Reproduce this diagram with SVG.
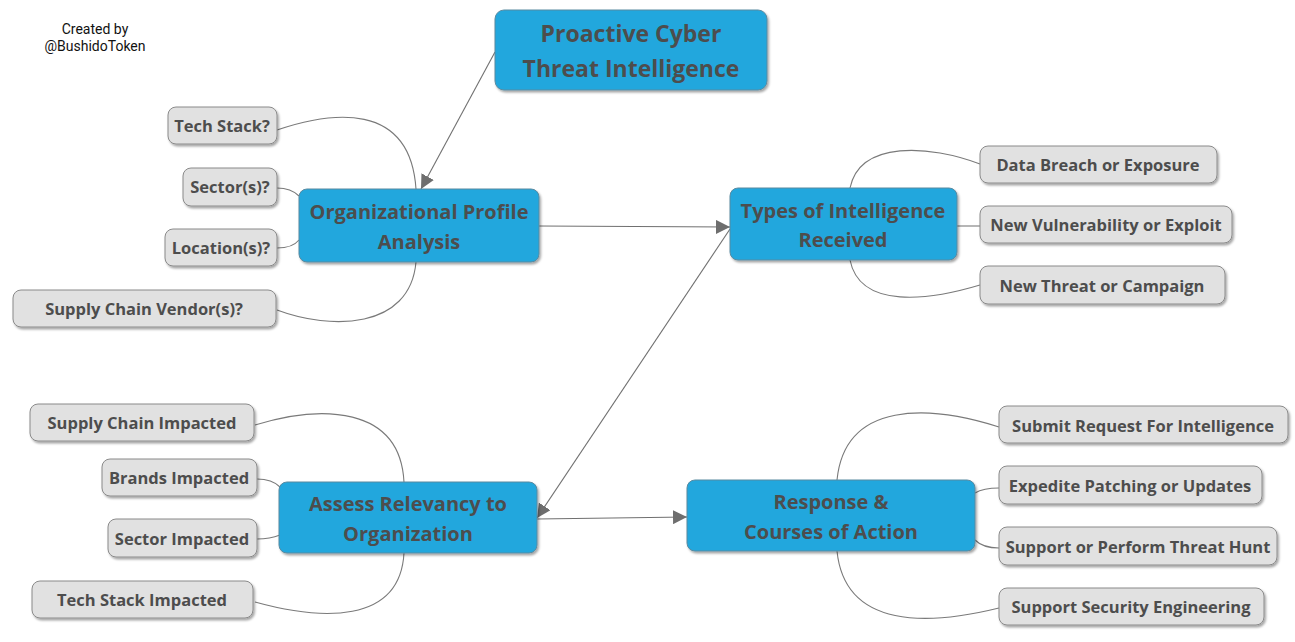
<svg xmlns="http://www.w3.org/2000/svg" width="1295" height="642" viewBox="0 0 1295 642">
<defs>
<filter id="sh" x="-10%" y="-20%" width="120%" height="150%">
<feDropShadow dx="1.5" dy="2" stdDeviation="1.2" flood-color="#000" flood-opacity="0.35"/>
</filter>
<marker id="arr" viewBox="0 0 10 10" refX="10" refY="5" markerWidth="14" markerHeight="14" markerUnits="userSpaceOnUse" orient="auto">
<path d="M0,0 L10,5 L0,10 z" fill="#6e6e6e"/>
</marker>
<style>
.main{fill:#22a7dd;stroke:#5a8aa0;stroke-width:1;filter:url(#sh)}
.sub{fill:#e1e1e1;stroke:#8a8a8a;stroke-width:1;filter:url(#sh)}
.t{font-family:"Open Sans","Noto Sans",sans-serif;font-weight:bold;fill:#4d4d4d;text-anchor:middle;dominant-baseline:central}
.tm{font-size:20px}
.tt{font-size:23px}
.ts{font-size:16.5px}
.c{fill:none;stroke:#7a7a7a;stroke-width:1.1}
.a{fill:none;stroke:#707070;stroke-width:1.1;marker-end:url(#arr)}
.credit{font-family:Roboto,"Liberation Sans",sans-serif;font-size:14px;fill:#111;text-anchor:middle}
</style>
</defs>
<text class="credit" x="95" y="34">Created by</text>
<text class="credit" x="95" y="51">@BushidoToken</text>

<g id="connectors">
<path class="a" d="M495,52 L421,189"/>
<path class="a" d="M539,226 L730,227"/>
<path class="a" d="M730,229 L537,518"/>
<path class="a" d="M537,519 L687,517"/>
<path class="c" d="M277,130 C330,112 410,100 416,189"/>
<path class="c" d="M277,188 C288,188 295,192 299,196"/>
<path class="c" d="M277,248 C288,248 295,245 299,240"/>
<path class="c" d="M277,310 C330,330 410,330 416,262"/>
<path class="c" d="M980,164 C930,145 860,140 850,188"/>
<path class="c" d="M957,226 L980,226"/>
<path class="c" d="M980,285 C930,300 860,310 850,260"/>
<path class="c" d="M255,425 C320,405 400,405 404,482"/>
<path class="c" d="M257,479 C268,479 275,482 280,487"/>
<path class="c" d="M257,539 C268,539 275,537 280,535"/>
<path class="c" d="M255,602 C320,620 400,625 404,553"/>
<path class="c" d="M999,427 C930,405 845,400 837,480"/>
<path class="c" d="M999,488 C986,488 980,490 975,493"/>
<path class="c" d="M999,548 C986,548 980,545 975,540"/>
<path class="c" d="M999,608 C930,625 845,630 837,551"/>
</g>

<g id="n-main"><rect class="main" x="495" y="10" width="272" height="80" rx="9"/>
<text class="t tt" x="631" y="33">Proactive Cyber</text><text class="t tt" x="631" y="68">Threat Intelligence</text></g>

<g id="n-org"><rect class="main" x="299" y="189" width="240" height="73" rx="8"/>
<text class="t tm" x="419" y="211">Organizational Profile</text><text class="t tm" x="419" y="241">Analysis</text></g>

<g id="n-types"><rect class="main" x="730" y="188" width="227" height="72" rx="8"/>
<text class="t tm" x="843" y="210">Types of Intelligence</text><text class="t tm" x="843" y="239">Received</text></g>

<g id="n-assess"><rect class="main" x="279" y="482" width="258" height="71" rx="8"/>
<text class="t tm" x="408" y="503">Assess Relevancy to</text><text class="t tm" x="408" y="533">Organization</text></g>

<g id="n-resp"><rect class="main" x="687" y="480" width="288" height="71" rx="8"/>
<text class="t tm" x="831" y="501">Response &amp;</text><text class="t tm" x="831" y="531">Courses of Action</text></g>

<g id="n-techstack"><rect class="sub" x="168" y="107" width="109" height="37" rx="8"/><text class="t ts" x="222" y="125">Tech Stack?</text></g>
<g id="n-sector"><rect class="sub" x="183" y="168" width="94" height="38" rx="8"/><text class="t ts" x="230" y="186">Sector(s)?</text></g>
<g id="n-location"><rect class="sub" x="165" y="229" width="112" height="37" rx="8"/><text class="t ts" x="221" y="247">Location(s)?</text></g>
<g id="n-supplyv"><rect class="sub" x="13" y="290" width="263" height="37" rx="8"/><text class="t ts" x="144" y="308">Supply Chain Vendor(s)?</text></g>

<g id="n-breach"><rect class="sub" x="980" y="146" width="237" height="37" rx="8"/><text class="t ts" x="1098" y="164">Data Breach or Exposure</text></g>
<g id="n-vuln"><rect class="sub" x="980" y="206" width="252" height="37" rx="8"/><text class="t ts" x="1106" y="224">New Vulnerability or Exploit</text></g>
<g id="n-threat"><rect class="sub" x="980" y="266" width="245" height="38" rx="8"/><text class="t ts" x="1102" y="285">New Threat or Campaign</text></g>

<g id="n-supplyi"><rect class="sub" x="30" y="404" width="224" height="37" rx="8"/><text class="t ts" x="142" y="422">Supply Chain Impacted</text></g>
<g id="n-brands"><rect class="sub" x="102" y="459" width="155" height="37" rx="8"/><text class="t ts" x="179" y="477">Brands Impacted</text></g>
<g id="n-sectori"><rect class="sub" x="108" y="519" width="149" height="38" rx="8"/><text class="t ts" x="182" y="538">Sector Impacted</text></g>
<g id="n-techi"><rect class="sub" x="32" y="581" width="221" height="37" rx="8"/><text class="t ts" x="142" y="599">Tech Stack Impacted</text></g>

<g id="n-rfi"><rect class="sub" x="999" y="406" width="289" height="37" rx="8"/><text class="t ts" x="1143" y="425">Submit Request For Intelligence</text></g>
<g id="n-patch"><rect class="sub" x="999" y="466" width="263" height="38" rx="8"/><text class="t ts" x="1130" y="485">Expedite Patching or Updates</text></g>
<g id="n-hunt"><rect class="sub" x="999" y="527" width="278" height="38" rx="8"/><text class="t ts" x="1138" y="546">Support or Perform Threat Hunt</text></g>
<g id="n-eng"><rect class="sub" x="999" y="588" width="265" height="37" rx="8"/><text class="t ts" x="1131" y="606">Support Security Engineering</text></g>
</svg>
